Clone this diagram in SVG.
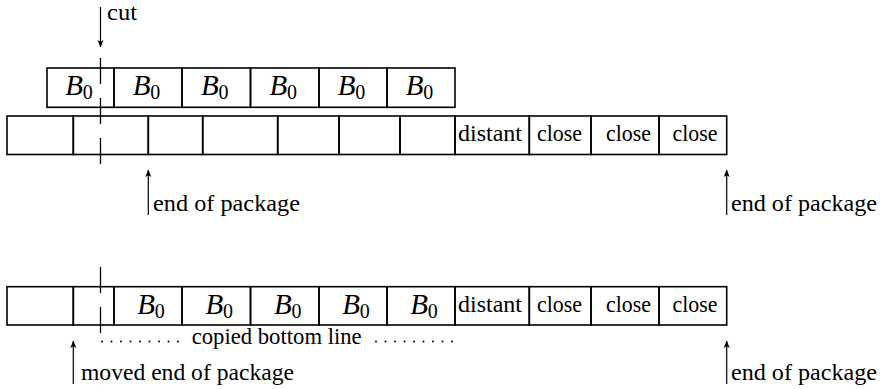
<svg xmlns="http://www.w3.org/2000/svg" width="882" height="389" viewBox="0 0 882 389">
<style>
.bx{fill:none;stroke:#000;stroke-width:1.6}
.t{font-family:'Liberation Serif','Times New Roman',serif;font-size:22.5px;fill:#000}
.b{font-family:'Liberation Serif','Times New Roman',serif;font-size:29px;fill:#000}
.bi{font-style:italic}
.sub{font-size:20px;font-style:normal}
.cut{stroke:#000;stroke-width:1.3;stroke-dasharray:26 14;fill:none}
.ar{stroke:#000;stroke-width:1.2;fill:none;marker-end:url(#ah)}
.dots{stroke:#000;stroke-width:2;stroke-linecap:round;stroke-dasharray:0 9.5;fill:none}
</style>
<defs>
<marker id="ah" viewBox="-8 -4 9 8" refX="0" refY="0" markerWidth="9" markerHeight="8" markerUnits="userSpaceOnUse" orient="auto"><path d="M0.6,0 L-7,-3 L-5.2,0 L-7,3 Z" fill="#000"/></marker>
</defs>

<!-- top B0 row -->
<g id="top-b1"><rect class="bx" x="47" y="68" width="67" height="39.3"/><text class="b" x="79" y="95" text-anchor="middle"><tspan class="bi">B</tspan><tspan class="sub" dy="4">0</tspan></text></g>
<g id="top-b2"><rect class="bx" x="114" y="68" width="68" height="39.3"/><text class="b" x="146.5" y="95" text-anchor="middle"><tspan class="bi">B</tspan><tspan class="sub" dy="4">0</tspan></text></g>
<g id="top-b3"><rect class="bx" x="182" y="68" width="68.5" height="39.3"/><text class="b" x="214.75" y="95" text-anchor="middle"><tspan class="bi">B</tspan><tspan class="sub" dy="4">0</tspan></text></g>
<g id="top-b4"><rect class="bx" x="250.5" y="68" width="68.5" height="39.3"/><text class="b" x="283.25" y="95" text-anchor="middle"><tspan class="bi">B</tspan><tspan class="sub" dy="4">0</tspan></text></g>
<g id="top-b5"><rect class="bx" x="319" y="68" width="68" height="39.3"/><text class="b" x="351.5" y="95" text-anchor="middle"><tspan class="bi">B</tspan><tspan class="sub" dy="4">0</tspan></text></g>
<g id="top-b6"><rect class="bx" x="387" y="68" width="68" height="39.3"/><text class="b" x="419.5" y="95" text-anchor="middle"><tspan class="bi">B</tspan><tspan class="sub" dy="4">0</tspan></text></g>

<!-- row 1 package -->
<g id="r1-c1"><rect class="bx" x="7" y="116" width="66.3" height="38.5"/></g>
<g id="r1-c2"><rect class="bx" x="73.3" y="116" width="75" height="38.5"/></g>
<g id="r1-c3"><rect class="bx" x="148.3" y="116" width="54.4" height="38.5"/></g>
<g id="r1-c4"><rect class="bx" x="202.7" y="116" width="75" height="38.5"/></g>
<g id="r1-c5"><rect class="bx" x="277.7" y="116" width="61.3" height="38.5"/></g>
<g id="r1-c6"><rect class="bx" x="339" y="116" width="61" height="38.5"/></g>
<g id="r1-c7"><rect class="bx" x="400" y="116" width="55" height="38.5"/></g>
<g id="r1-distant"><rect class="bx" x="455" y="116" width="74.3" height="38.5"/><text class="t" x="458" y="141" textLength="64" lengthAdjust="spacingAndGlyphs">distant</text></g>
<g id="r1-close1"><rect class="bx" x="529.3" y="116" width="61.7" height="38.5"/><text class="t" x="537" y="141" textLength="45" lengthAdjust="spacingAndGlyphs">close</text></g>
<g id="r1-close2"><rect class="bx" x="591" y="116" width="68" height="38.5"/><text class="t" x="606" y="141" textLength="45" lengthAdjust="spacingAndGlyphs">close</text></g>
<g id="r1-close3"><rect class="bx" x="659" y="116" width="67.7" height="38.5"/><text class="t" x="672.5" y="141" textLength="45" lengthAdjust="spacingAndGlyphs">close</text></g>

<!-- row 2 package -->
<g id="r2-c1"><rect class="bx" x="7" y="286.7" width="66.3" height="38.3"/></g>
<g id="r2-c2"><rect class="bx" x="73.3" y="286.7" width="40.7" height="38.3"/></g>
<g id="r2-b1"><rect class="bx" x="114" y="286.7" width="68" height="38.3"/><text class="b" x="151" y="314" text-anchor="middle"><tspan class="bi">B</tspan><tspan class="sub" dy="4">0</tspan></text></g>
<g id="r2-b2"><rect class="bx" x="182" y="286.7" width="68.5" height="38.3"/><text class="b" x="219.25" y="314" text-anchor="middle"><tspan class="bi">B</tspan><tspan class="sub" dy="4">0</tspan></text></g>
<g id="r2-b3"><rect class="bx" x="250.5" y="286.7" width="68.5" height="38.3"/><text class="b" x="287.75" y="314" text-anchor="middle"><tspan class="bi">B</tspan><tspan class="sub" dy="4">0</tspan></text></g>
<g id="r2-b4"><rect class="bx" x="319" y="286.7" width="68" height="38.3"/><text class="b" x="356" y="314" text-anchor="middle"><tspan class="bi">B</tspan><tspan class="sub" dy="4">0</tspan></text></g>
<g id="r2-b5"><rect class="bx" x="387" y="286.7" width="68" height="38.3"/><text class="b" x="424" y="314" text-anchor="middle"><tspan class="bi">B</tspan><tspan class="sub" dy="4">0</tspan></text></g>
<g id="r2-distant"><rect class="bx" x="455" y="286.7" width="74.3" height="38.3"/><text class="t" x="458" y="311.7" textLength="64" lengthAdjust="spacingAndGlyphs">distant</text></g>
<g id="r2-close1"><rect class="bx" x="529.3" y="286.7" width="61.7" height="38.3"/><text class="t" x="537" y="311.7" textLength="45" lengthAdjust="spacingAndGlyphs">close</text></g>
<g id="r2-close2"><rect class="bx" x="591" y="286.7" width="68" height="38.3"/><text class="t" x="606" y="311.7" textLength="45" lengthAdjust="spacingAndGlyphs">close</text></g>
<g id="r2-close3"><rect class="bx" x="659" y="286.7" width="67.7" height="38.3"/><text class="t" x="672.5" y="311.7" textLength="45" lengthAdjust="spacingAndGlyphs">close</text></g>

<!-- labels -->
<g id="lbl-cut"><text class="t" x="107" y="20" textLength="30" lengthAdjust="spacingAndGlyphs">cut</text></g>
<g id="lbl-end1"><text class="t" x="153" y="211" textLength="147" lengthAdjust="spacingAndGlyphs">end of package</text></g>
<g id="lbl-end2"><text class="t" x="731" y="211" textLength="146" lengthAdjust="spacingAndGlyphs">end of package</text></g>
<g id="lbl-moved"><text class="t" x="81" y="380" textLength="213" lengthAdjust="spacingAndGlyphs">moved end of package</text></g>
<g id="lbl-end3"><text class="t" x="731" y="380" textLength="146" lengthAdjust="spacingAndGlyphs">end of package</text></g>
<g id="lbl-copied"><text class="t" x="191.7" y="343.5" textLength="170" lengthAdjust="spacingAndGlyphs">copied bottom line</text></g>

<!-- connectors -->
<g id="connectors">
<line class="ar" x1="100.5" y1="7" x2="100.5" y2="47"/>
<line class="cut" x1="100.5" y1="58" x2="100.5" y2="164"/>
<line class="cut" x1="100.5" y1="267" x2="100.5" y2="333"/>
<line class="ar" x1="148.3" y1="215" x2="148.3" y2="170"/>
<line class="ar" x1="726.7" y1="215" x2="726.7" y2="170"/>
<line class="ar" x1="73.3" y1="384" x2="73.3" y2="341"/>
<line class="ar" x1="726.7" y1="384" x2="726.7" y2="341"/>
<line class="dots" x1="102" y1="341.5" x2="178.5" y2="341.5"/>
<line class="dots" x1="376" y1="341.5" x2="452.5" y2="341.5"/>
</g>
</svg>
